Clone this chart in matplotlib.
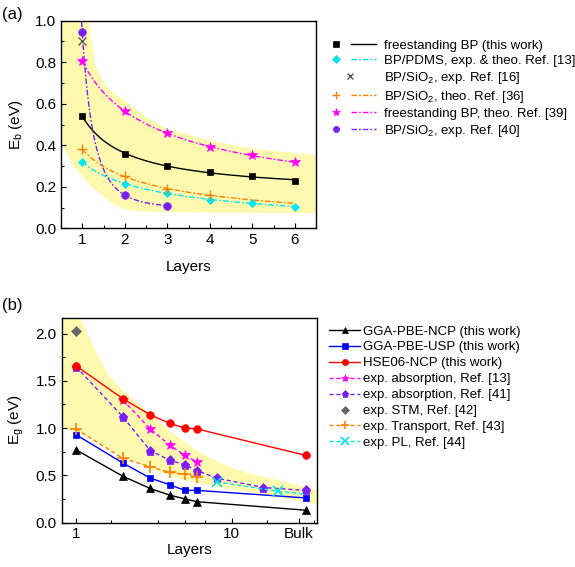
import numpy as np
import matplotlib
matplotlib.use("Agg")
import matplotlib.pyplot as plt
from matplotlib.lines import Line2D
from matplotlib.legend_handler import HandlerTuple

plt.rcParams['font.family'] = ['Liberation Sans', 'DejaVu Sans']
plt.rcParams['mathtext.default'] = 'regular'

# ---------------- data, panel (a) ----------------
layers_a = [1, 2, 3, 4, 5, 6]
eb_this = [0.54, 0.36, 0.30, 0.27, 0.25, 0.23]
eb_pdms_x = [1, 2, 3, 4, 5, 6]
eb_pdms = [0.32, 0.215, 0.168, 0.138, 0.122, 0.104]
eb_sio2_16_x = [1]
eb_sio2_16 = [0.90]
eb_sio2_36_x = [1, 2, 3, 4]
eb_sio2_36 = [0.38, 0.25, 0.19, 0.16]
eb_free39_x = [1, 2, 3, 4, 5, 6]
eb_free39 = [0.805, 0.565, 0.457, 0.393, 0.351, 0.318]
eb_sio2_40_x = [1, 2, 3]
eb_sio2_40 = [0.944, 0.16, 0.109]

band_a_hi_x = [0.5, 1.0, 1.15, 1.2, 1.3, 1.45, 1.65, 2.0, 2.5, 3.0, 4.0, 5.0, 6.5]
band_a_hi = [1.3, 1.15, 1.0, 0.92, 0.79, 0.72, 0.665, 0.615, 0.537, 0.48, 0.425, 0.385, 0.355]
band_a_lo_x = [0.5, 0.75, 1.0, 1.25, 1.5, 1.75, 2.0, 2.2, 3.0, 6.5]
band_a_lo = [0.41, 0.31, 0.25, 0.195, 0.152, 0.115, 0.092, 0.085, 0.08, 0.075]

labels_a = ['freestanding BP (this work)',
            'BP/PDMS, exp. & theo. Ref. [13]',
            'BP/SiO$_2$, exp. Ref. [16]',
            'BP/SiO$_2$, theo. Ref. [36]',
            'freestanding BP, theo. Ref. [39]',
            'BP/SiO$_2$, exp. Ref. [40]']

# ---------------- data, panel (b) ----------------
bulk = 30
layers_b = [1, 2, 3, 4, 5, 6, bulk]
eg_ncp = [0.77, 0.49, 0.36, 0.29, 0.25, 0.22, 0.13]
eg_usp = [0.93, 0.63, 0.47, 0.40, 0.34, 0.34, 0.26]
eg_hse = [1.66, 1.31, 1.14, 1.05, 1.00, 0.99, 0.71]
abs13_x = [2, 3, 4, 5, 6]
abs13 = [1.30, 0.99, 0.82, 0.71, 0.64]
abs41_x = [1, 2, 3, 4, 5, 6, 8, 16, bulk]
abs41 = [1.65, 1.12, 0.76, 0.66, 0.61, 0.55, 0.47, 0.37, 0.34]
stm_x = [1]
stm = [2.03]
transp_x = [1, 2, 3, 4, 5, 6]
transp = [0.99, 0.68, 0.59, 0.53, 0.51, 0.48]
pl_x = [8, 20, bulk]
pl = [0.43, 0.33, 0.30]

band_b_hi_x = [0.81, 1.06, 1.3, 1.6, 2, 3, 4.3, 6, 8.2, 12, 19, 35.2]
band_b_hi = [2.6, 2.17, 1.85, 1.57, 1.40, 1.15, 0.93, 0.76, 0.64, 0.54, 0.46, 0.35]
band_b_lo_x = [0.81, 1, 2, 3, 5, 7, 19, 35.2]
band_b_lo = [1.0, 0.97, 0.70, 0.57, 0.45, 0.40, 0.28, 0.20]

labels_b = ['GGA-PBE-NCP (this work)', 'GGA-PBE-USP (this work)',
            'HSE06-NCP (this work)', 'exp. absorption, Ref. [13]',
            'exp. absorption, Ref. [41]', 'exp. STM, Ref. [42]',
            'exp. Transport, Ref. [43]', 'exp. PL, Ref. [44]']

# ---------------- helpers ----------------
def powfit(x, y):
    x = np.asarray(x, float); y = np.asarray(y, float)
    best = None
    for b in np.linspace(0.05, 6, 1200):
        A = np.vstack([x ** -b, np.ones_like(x)]).T
        coef = np.linalg.lstsq(A, y, rcond=None)[0]
        r = np.sum((A @ coef - y) ** 2)
        if best is None or r < best[0]:
            best = (r, b, coef)
    _, b, (a, c) = best
    return lambda t: a * np.asarray(t) ** -b + c

YEL = '#FFF9B0'
BLACK = 'black'
CYAN = '#00E5EE'
GRAY = '#5a5a5a'
ORANGE = '#FF8000'
MAGENTA = '#FF00FF'
PURPLE = '#7A1FF2'
BLUE = '#0000FF'
RED = '#FF0000'
DD = (4, 1.5, 1.2, 1.5)
LEGFS = 9.5
TICKFS = 11
LABFS = 11

fig = plt.figure(figsize=(5.75, 5.67), dpi=100)
W, H = 575, 567
def ax_rect(l, t, r, b):
    return [l / W, 1 - b / H, (r - l) / W, (b - t) / H]

# ================= panel (a) =================
ax = fig.add_axes(ax_rect(61, 20.7, 316, 228.3))
xs = np.linspace(0.5, 6.5, 400)
ax.fill_between(xs, np.interp(xs, band_a_lo_x, band_a_lo),
                np.interp(xs, band_a_hi_x, band_a_hi), color=YEL, lw=0, zorder=0)

series_a = [
    (layers_a, eb_this, BLACK, 's', 5, None, (1, 6)),
    (eb_pdms_x, eb_pdms, CYAN, 'D', 4.5, DD, (1, 6)),
    (eb_sio2_16_x, eb_sio2_16, GRAY, 'x', 6, None, None),
    (eb_sio2_36_x, eb_sio2_36, ORANGE, '+', 7, DD, (1, 6)),
    (eb_free39_x, eb_free39, MAGENTA, '*', 7.5, DD, (1, 6)),
    (eb_sio2_40_x, eb_sio2_40, PURPLE, 'o', 5.5, DD, (0.9, 3)),
]
handles_a = []
for x, y, col, mk, ms, dashes, rng in series_a:
    mew = 1.0 if mk in 'x+' else 0.5
    mh = Line2D([], [], ls='none', marker=mk, ms=ms * 0.8, color=col, mew=mew)
    if rng is not None:
        f = powfit(x, y)
        tt = np.linspace(rng[0], rng[1], 300)
        if dashes:
            ax.plot(tt, f(tt), ls='--', dashes=dashes, color=col, lw=1)
            lh = Line2D([], [], color=col, lw=1, ls='--')
            lh.set_dashes(dashes)
        else:
            ax.plot(tt, f(tt), ls='-', color=col, lw=1)
            lh = Line2D([], [], color=col, lw=1, ls='-')
        handles_a.append((mh, lh))
    else:
        handles_a.append(mh)
    ax.plot(x, y, ls='none', marker=mk, ms=ms, color=col, mew=mew, zorder=5)

ax.set_xlim(0.5, 6.5)
ax.set_ylim(0, 1.0)
ax.set_xticks([1, 2, 3, 4, 5, 6])
ax.set_xticks([1.5, 2.5, 3.5, 4.5, 5.5], minor=True)
ax.set_yticks([0, 0.2, 0.4, 0.6, 0.8, 1.0])
ax.set_yticks(np.arange(0.1, 1.0, 0.2), minor=True)
ax.set_xlabel('Layers', fontsize=LABFS, labelpad=9)
ax.set_ylabel('E$_b$ (eV)', fontsize=LABFS, labelpad=7)
ax.legend(handles_a, labels_a, loc='upper left', bbox_to_anchor=(1.03, 0.909),
          frameon=False, fontsize=LEGFS, handlelength=3.95, handletextpad=0.6,
          labelspacing=0.22, borderpad=0, borderaxespad=0,
          handler_map={tuple: HandlerTuple(ndivide=2, pad=0.19)})

# ================= panel (b) =================
bx = fig.add_axes(ax_rect(61.7, 317.5, 316.7, 522.5))
bx.set_xscale('log')
xs = np.geomspace(0.81, 35.2, 400)
bx.fill_between(xs, np.interp(np.log(xs), np.log(band_b_lo_x), band_b_lo),
                np.interp(np.log(xs), np.log(band_b_hi_x), band_b_hi),
                color=YEL, lw=0, zorder=0)

DS = (3, 2)
bx.plot(layers_b, eg_ncp, color=BLACK, lw=1, marker='^', ms=5.5, mew=0.5, label=labels_b[0], zorder=3)
bx.plot(layers_b, eg_usp, color=BLUE, lw=1, marker='s', ms=5, mew=0.5, label=labels_b[1], zorder=3)
bx.plot(layers_b, eg_hse, color=RED, lw=1, marker='o', ms=5.5, mew=0.5, label=labels_b[2], zorder=6)
bx.plot(abs13_x, abs13, color=MAGENTA, lw=1, ls='--', dashes=DS, marker='*', ms=7.5, mew=0.5, label=labels_b[3], zorder=4)
bx.plot(abs41_x, abs41, color=PURPLE, lw=1, ls='--', dashes=DS, marker='p', ms=6.5, mew=0.5, label=labels_b[4], zorder=4)
bx.plot(stm_x, stm, color='#666666', ls='none', marker='D', ms=5, mew=0.5, label=labels_b[5], zorder=4)
bx.plot(transp_x, transp, color=ORANGE, lw=1, ls='--', dashes=DS, marker='+', ms=8, mew=1.2, label=labels_b[6], zorder=4)
bx.plot(pl_x, pl, color=CYAN, lw=1, ls='--', dashes=DS, marker='x', ms=7, mew=1.2, markevery=[0, 1], label=labels_b[7], zorder=4)

bx.set_xlim(0.81, 35.2)
bx.set_ylim(0, 2.17)
bx.set_xticks([1, 10, 27])
bx.set_xticklabels(['1', '10', 'Bulk'])
bx.set_xticks([1.68, 3.35, 5.0, 6.7, 16.9, 34], minor=True)
bx.xaxis.set_minor_formatter(matplotlib.ticker.NullFormatter())
bx.set_yticks([0, 0.5, 1.0, 1.5, 2.0])
bx.set_yticklabels(['0.0', '0.5', '1.0', '1.5', '2.0'])
bx.set_yticks([0.25, 0.75, 1.25, 1.75], minor=True)
bx.set_xlabel('Layers', fontsize=LABFS, labelpad=1)
bx.set_ylabel('E$_g$ (eV)', fontsize=LABFS, labelpad=7)
bx.legend(loc='upper left', bbox_to_anchor=(1.05, 0.962), frameon=False, fontsize=LEGFS,
          handlelength=2.3, handletextpad=0.25, labelspacing=0.28, borderpad=0,
          borderaxespad=0, markerscale=0.8)

for a in (ax, bx):
    a.tick_params(which='both', direction='in', labelsize=TICKFS, top=False, right=False)
    a.tick_params(which='major', length=3.5, width=0.8)
    a.tick_params(which='minor', length=2, width=0.8)
    for s in a.spines.values():
        s.set_linewidth(1.0)

fig.text(0.004, 0.975, '(a)', fontsize=12, va='center', ha='left')
fig.text(0.004, 0.462, '(b)', fontsize=12, va='center', ha='left')

fig.savefig('out.png', dpi=100)
